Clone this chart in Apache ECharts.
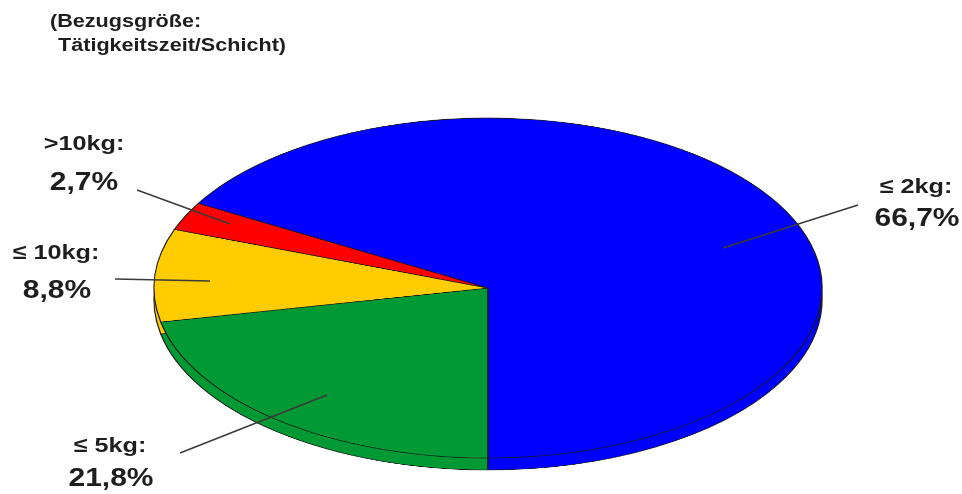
<!DOCTYPE html>
<html>
<head>
<meta charset="utf-8">
<script src="https://cdn.jsdelivr.net/npm/echarts@6/dist/echarts.min.js"></script>
<style>
  html, body { margin: 0; padding: 0; background: #fff; }
  #stage { position: relative; width: 962px; height: 494px; overflow: hidden; }
  /* the disc is drawn round, then flattened into an ellipse */
  #disc { position: absolute; left: 0; top: 0; width: 962px; height: 970px;
          transform: scaleY(0.509); transform-origin: 0 0; }
  #texts { position: absolute; left: 0; top: 0; width: 962px; height: 494px; }
</style>
</head>
<body>
<div id="stage">
  <div id="disc"></div>
  <div id="texts"></div>
</div>
<script>
// Weight classes and their share of working time per shift (%)
const categories = ['≤ 5kg:', '≤ 10kg:', '>10kg:', '≤ 2kg:'];
const shares = [21.8, 8.8, 2.7, 66.7];
const colors = ['#009933', '#FFCC00', '#FF0000', '#0000FF'];
const titleLines = ['(Bezugsgröße:', 'Tätigkeitszeit/Schicht)'];

const FLAT = 0.509;            // vertical squash of the disc
const CX = 488, CY = 288;      // visible centre of the top face
const R = 334;                 // horizontal radius
const DEPTH = 12;              // thickness of the disc edge

const slices = categories.map((c, i) => ({
  name: c, value: shares[i], itemStyle: { color: colors[i] }
}));

function pieLayer(cyScreen) {
  return {
    type: 'pie',
    center: [CX, cyScreen / FLAT],
    radius: R,
    startAngle: 270,
    clockwise: true,
    avoidLabelOverlap: false,
    label: { show: false },
    labelLine: { show: false },
    emphasis: { disabled: true },
    itemStyle: { borderColor: '#1a1a1a', borderWidth: 1.3 },
    data: slices
  };
}

const disc = echarts.init(document.getElementById('disc'), null, { renderer: 'canvas' });
disc.setOption({
  animation: false,
  series: [pieLayer(CY + DEPTH), pieLayer(CY)]
});

// Labels and leader lines
const fmt = v => v.toFixed(1).replace('.', ',') + '%';
const labelPos = [
  { name: [110, 446], value: [111, 479], line: [[180, 453], [327, 395]] },
  { name: [56, 253],  value: [57, 291],  line: [[115, 279], [210, 281]] },
  { name: [84, 144],  value: [84, 183],  line: [[137, 190], [230, 224]] },
  { name: [916, 187], value: [917, 219], line: [[858, 205], [723, 248]] }
];
const FONT = '"Liberation Sans", Arial, sans-serif';
const SX = 1.2;

const elements = [];
titleLines.forEach((t, i) => {
  elements.push({
    type: 'text', x: i === 0 ? 50 : 58, y: i === 0 ? 22 : 46, scaleX: SX,
    style: { text: t, font: 'bold 18px ' + FONT, fill: '#1e1e1e',
             textAlign: 'left', textVerticalAlign: 'middle' }
  });
});
categories.forEach((c, i) => {
  const p = labelPos[i];
  elements.push({
    type: 'line',
    shape: { x1: p.line[0][0], y1: p.line[0][1], x2: p.line[1][0], y2: p.line[1][1] },
    style: { stroke: '#3a3a3a', lineWidth: 1.5 }
  });
  elements.push({
    type: 'text', x: p.name[0], y: p.name[1], scaleX: SX,
    style: { text: c, font: 'bold 21px ' + FONT, fill: '#1e1e1e',
             textAlign: 'center', textVerticalAlign: 'middle' }
  });
  elements.push({
    type: 'text', x: p.value[0], y: p.value[1], scaleX: SX,
    style: { text: fmt(shares[i]), font: 'bold 25px ' + FONT, fill: '#1e1e1e',
             textAlign: 'center', textVerticalAlign: 'middle' }
  });
});

const texts = echarts.init(document.getElementById('texts'), null, { renderer: 'canvas' });
texts.setOption({ animation: false, graphic: { elements: elements } });
</script>
</body>
</html>
